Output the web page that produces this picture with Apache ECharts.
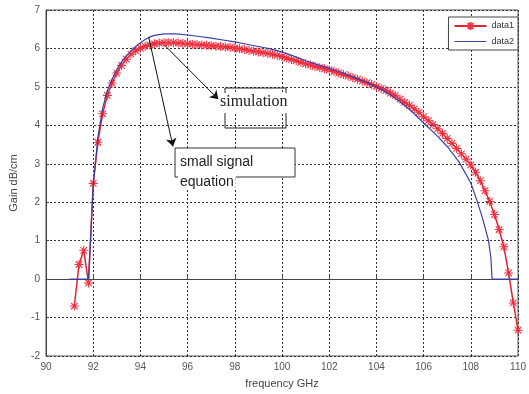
<!DOCTYPE html>
<html><head><meta charset="utf-8">
<script src="https://cdn.jsdelivr.net/npm/echarts@6/dist/echarts.min.js"></script>
<style>html,body{margin:0;padding:0;background:#fff}#c{width:529px;height:394px}</style>
</head><body><div id="c"></div>
<script>
var xTicks = [90, 92, 94, 96, 98, 100, 102, 104, 106, 108, 110];
var yTicks = [-2, -1, 0, 1, 2, 3, 4, 5, 6, 7];

var data1X = [91.2,91.4,91.6,91.8,92.0,92.2,92.4,92.6,92.8,93.0,93.2,93.4,93.6,93.8,94.0,94.2,94.4,94.6,94.8,95.0,
  95.2,95.4,95.6,95.8,96.0,96.2,96.4,96.6,96.8,97.0,97.2,97.4,97.6,97.8,98.0,98.2,98.4,98.6,98.8,99.0,
  99.2,99.4,99.6,99.8,100.0,100.2,100.4,100.6,100.8,101.0,101.2,101.4,101.6,101.8,102.0,102.2,102.4,102.6,102.8,103.0,
  103.2,103.4,103.6,103.8,104.0,104.2,104.4,104.6,104.8,105.0,105.2,105.4,105.6,105.8,106.0,106.2,106.4,106.6,106.8,107.0,
  107.2,107.4,107.6,107.8,108.0,108.2,108.4,108.6,108.8,109.0,109.2,109.4,109.6,109.8,110.0];
var data1Y = [-0.70,0.38,0.75,-0.10,2.49,3.56,4.30,4.78,5.10,5.36,5.56,5.72,5.85,5.94,6.01,6.06,6.09,6.12,6.14,6.15,
  6.15,6.15,6.14,6.13,6.12,6.11,6.10,6.09,6.08,6.07,6.06,6.05,6.04,6.03,6.01,5.99,5.97,5.95,5.93,5.91,
  5.89,5.87,5.85,5.82,5.79,5.75,5.71,5.68,5.64,5.60,5.57,5.53,5.50,5.47,5.44,5.40,5.36,5.32,5.28,5.24,
  5.20,5.15,5.11,5.06,5.01,4.96,4.91,4.84,4.77,4.68,4.60,4.52,4.43,4.34,4.22,4.12,4.02,3.91,3.79,3.66,
  3.53,3.40,3.26,3.12,2.97,2.78,2.56,2.30,2.02,1.68,1.29,0.84,0.16,-0.62,-1.33];

var data2X = [91.0,91.8,91.9,92.0,92.2,92.4,92.6,92.8,93.0,93.2,93.4,93.6,93.8,94.0,94.2,94.4,94.6,94.8,95.0,95.5,
  96.0,96.5,97.0,97.5,98.0,98.5,99.0,99.5,100.0,100.5,101.0,101.5,102.0,102.5,103.0,103.5,104.0,104.5,105.0,105.5,
  106.0,106.5,107.0,107.5,108.0,108.25,108.5,108.75,108.85,108.9,110.0];
var data2Y = [0,0,1.2,2.4,3.7,4.45,4.9,5.2,5.45,5.65,5.8,5.93,6.05,6.15,6.23,6.30,6.34,6.36,6.38,6.38,
  6.35,6.31,6.27,6.22,6.17,6.11,6.05,5.99,5.91,5.80,5.68,5.58,5.49,5.38,5.26,5.14,5.00,4.83,4.62,4.36,
  4.06,3.77,3.45,3.05,2.50,2.06,1.58,1.00,0.55,0,0];

var seriesNames = ['data1', 'data2'];
var xLabel = 'frequency GHz';
var yLabel = 'Gain dB/cm';

function pairs(xs, ys) { return xs.map(function (x, i) { return [x, ys[i]]; }); }

var chart = echarts.init(document.getElementById('c'), null, {renderer: 'canvas'});
var asterisk = 'path://M0,-5L0,5M-5,0L5,0M-3.6,-3.6L3.6,3.6M-3.6,3.6L3.6,-3.6';
var gridLine = {show: true, lineStyle: {color: '#333', type: [2, 2], width: 1}};
chart.setOption({
  animation: false,
  textStyle: {fontFamily: 'Liberation Sans'},
  grid: {left: 41, right: 9, top: 10, bottom: 38, show: true, borderColor: '#555', borderWidth: 1},
  legend: {
    data: [
      {name: seriesNames[0]},
      {name: seriesNames[1], icon: 'path://M0,0L32,0L32,1.2L0,1.2Z'}
    ],
    orient: 'vertical', right: 11, top: 17,
    backgroundColor: '#fff', borderColor: '#444', borderWidth: 1, padding: [4, 4, 4, 5],
    itemWidth: 32, itemHeight: 10, itemGap: 6,
    textStyle: {fontSize: 9, color: '#333', fontFamily: 'Liberation Sans'}
  },
  xAxis: {
    type: 'value', min: xTicks[0], max: xTicks[xTicks.length - 1], interval: 2,
    name: xLabel, nameLocation: 'middle', nameGap: 22,
    nameTextStyle: {fontSize: 11, color: '#444'},
    axisLine: {show: true, lineStyle: {color: '#444'}},
    axisTick: {show: true, inside: true, length: 3, lineStyle: {color: '#444'}},
    axisLabel: {fontSize: 10, color: '#555', margin: 6},
    splitLine: gridLine
  },
  yAxis: {
    type: 'value', min: yTicks[0], max: yTicks[yTicks.length - 1], interval: 1,
    name: yLabel, nameLocation: 'middle', nameGap: 27,
    nameTextStyle: {fontSize: 11, color: '#444'},
    axisLine: {show: true, lineStyle: {color: '#444'}},
    axisTick: {show: true, inside: true, length: 3, lineStyle: {color: '#444'}},
    axisLabel: {fontSize: 10, color: '#555', margin: 6},
    splitLine: gridLine
  },
  series: [
    {
      name: seriesNames[0], type: 'line', data: pairs(data1X, data1Y),
      symbol: asterisk, symbolSize: 9, showAllSymbol: true,
      lineStyle: {color: '#e8202a', width: 1.5},
      itemStyle: {color: '#e8202a', borderColor: '#ee3040', borderWidth: 1.1},
      z: 3
    },
    {
      name: seriesNames[1], type: 'line', data: pairs(data2X, data2Y),
      symbol: 'none', lineStyle: {color: '#3a40a8', width: 1.2},
      itemStyle: {color: '#3a40a8'}, z: 4,
      markLine: {
        silent: true, symbol: ['none', 'arrow'], symbolSize: 8, z: 30,
        label: {show: false},
        lineStyle: {color: '#111', width: 1, type: 'solid'},
        emphasis: {disabled: true},
        data: [
          [{coord: [95.0, 6.1]}, {coord: [97.3, 4.68]}],
          [{coord: [94.35, 6.3]}, {coord: [95.38, 3.45]}]
        ]
      }
    }
  ],
  graphic: [
    {type: 'rect', shape: {x: 225, y: 88, width: 61, height: 40}, style: {fill: 'none', stroke: '#222', lineWidth: 1}, z: 10},
    {type: 'text', left: 219, top: 93, style: {text: 'simulation', font: '16px "Liberation Serif"', fill: '#222', backgroundColor: '#fff', padding: [1, 2, 3, 1]}, z: 11},
    {type: 'rect', shape: {x: 175, y: 148, width: 120, height: 29}, style: {fill: '#fff', stroke: '#333', lineWidth: 1}, z: 10},
    {type: 'text', left: 180, top: 155, style: {text: 'small signal', font: '14px "Liberation Sans"', fill: '#222'}, z: 11},
    {type: 'text', left: 178, top: 174, style: {text: 'equation', font: '14px "Liberation Sans"', fill: '#222', backgroundColor: '#fff', padding: [1, 2, 1, 2]}, z: 11}
  ]
});
</script></body></html>
